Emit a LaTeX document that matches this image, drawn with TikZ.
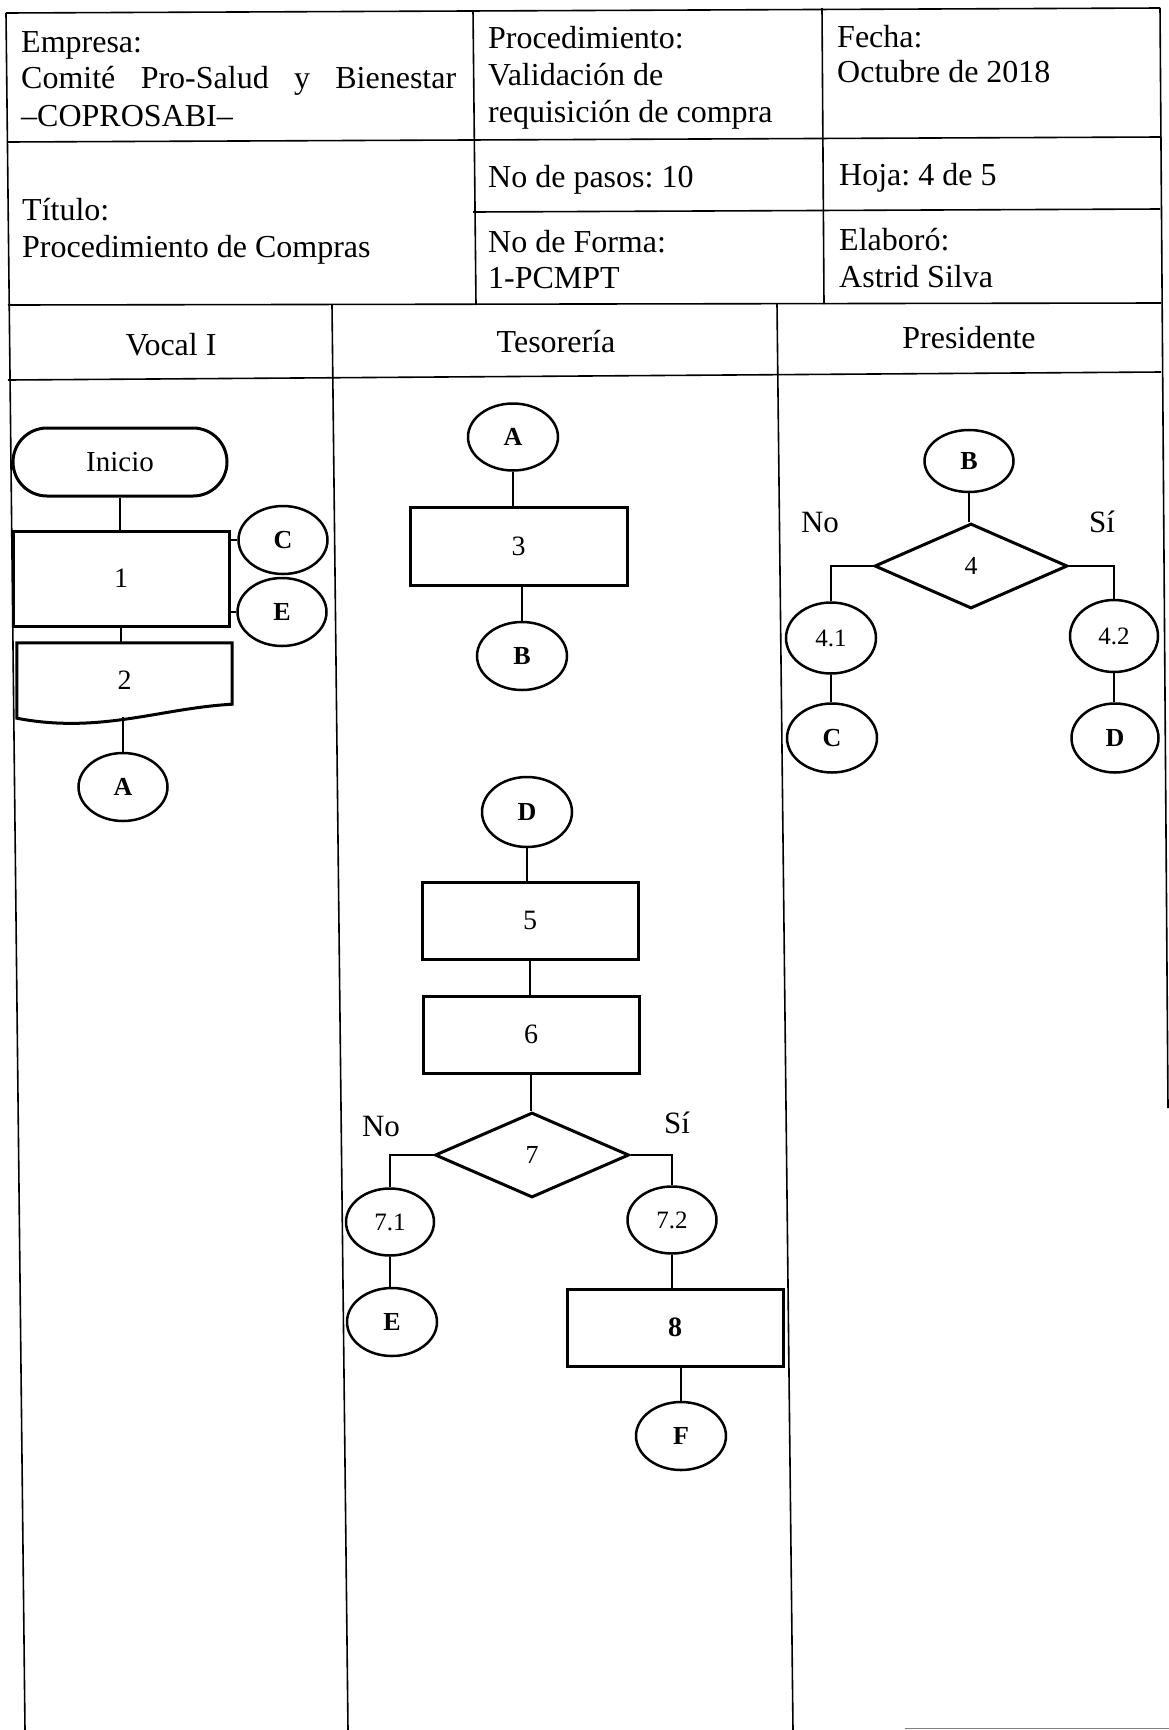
\documentclass[tikz,border=0pt]{standalone}
\usepackage{fontspec}
\setmainfont{Liberation Serif}
\usetikzlibrary{shapes.geometric,calc}
\frenchspacing
\begin{document}
\begin{tikzpicture}[x=1pt,y=-1pt,
  tabline/.style={line width=1.6pt},
  conn/.style={line width=1.4pt},
  procbox/.style={draw,rectangle,line width=3pt,inner sep=0pt,font=\fontsize{28}{30}\selectfont},
  conncirc/.style={draw,ellipse,line width=2.5pt,inner sep=0pt,minimum width=89pt,minimum height=68pt,font=\fontsize{26}{28}\selectfont\bfseries},
  numcirc/.style={draw,ellipse,line width=2.5pt,inner sep=0pt,minimum width=89pt,minimum height=68pt,font=\fontsize{25}{28}\selectfont},
  decision/.style={draw,diamond,line width=3pt,inner sep=0pt,minimum width=194pt,minimum height=85pt,font=\fontsize{26}{28}\selectfont},
  hdr/.style={anchor=base west,inner sep=0pt,font=\fontsize{32}{36}\selectfont},
  lanetitle/.style={anchor=base,inner sep=0pt,font=\fontsize{32}{36}\selectfont},
  lbl/.style={anchor=base,inner sep=0pt,font=\fontsize{31}{34}\selectfont}]

\useasboundingbox (0,0) rectangle (1169,1730);
\fill[white] (0,0) rectangle (1169,1730);

% ---------- table lines ----------
\draw[tabline] (6,13) -- (1160,8);
\draw[tabline] (7,142) -- (1160,137);
\draw[tabline] (473,212) -- (1160,209);
\draw[tabline] (8,305) -- (1161,303);
\draw[tabline] (8,380) -- (1161,372);
\draw[tabline] (473,10) -- (476,305);
\draw[tabline] (822,8) -- (824,304);
\draw[tabline] (6,13) -- (25,1730);
\draw[tabline] (332,305) -- (348,1730);
\draw[tabline] (777,304) -- (793,1730);
\draw[tabline] (1160,8) -- (1168,1108);
\draw[line width=1pt,gray] (905,1728) -- (1169,1728);

% ---------- header texts ----------
\node[hdr] (empresa) at (21,52) {Empresa:};
\node[hdr] (comite) at (21,88) {\makebox[435pt][s]{Comité Pro-Salud y Bienestar}};
\node[hdr] (coprosabi) at (21,126) {–COPROSABI–};
\node[hdr] (proc) at (488,48) {Procedimiento:};
\node[hdr] (valid) at (488,85) {Validación de};
\node[hdr] (requi) at (488,122) {requisición de compra};
\node[hdr] (fecha) at (837,47) {Fecha:};
\node[hdr] (octubre) at (837,82) {Octubre de 2018};
\node[hdr] (titulo) at (22,220) {Título:};
\node[hdr] (procompras) at (22,257) {Procedimiento de Compras};
\node[hdr] (pasos) at (488,187) {No de pasos: 10};
\node[hdr] (hoja) at (839,185) {Hoja: 4 de 5};
\node[hdr] (forma) at (488,252) {No de Forma:};
\node[hdr] (pcmpt) at (488,288) {1-PCMPT};
\node[hdr] (elaboro) at (839,250) {Elaboró:};
\node[hdr] (astrid) at (839,287) {Astrid Silva};
\node[lanetitle] (vocal) at (171,355) {Vocal I};
\node[lanetitle] (tesoreria) at (556,352) {Tesorería};
\node[lanetitle] (presidente) at (969,348) {Presidente};

% ---------- Vocal I lane ----------
\node[draw,rectangle,rounded corners=34pt,line width=3pt,minimum width=214pt,minimum height=68pt,inner sep=0pt,font=\fontsize{29}{32}\selectfont] (inicio) at (120,462) {Inicio};
\node[procbox,minimum width=216pt,minimum height=95pt] (s1) at (121,578.5) {1};
\node[conncirc] (cC1) at (283,540) {C};
\node[conncirc] (cE1) at (282,612) {E};
\node[inner sep=0pt,minimum width=215pt,minimum height=74pt,font=\fontsize{28}{30}\selectfont] (s2) at (124.5,680) {2};
\draw[line width=3pt,line join=miter] ($(s2.south west)+(0,1)$) -- (s2.north west) -- (s2.north east) -- ($(s2.south east)+(0,-13)$) .. controls ($(s2.south east)+(-72,-9)$) and ($(s2.south west)+(83,17)$) .. ($(s2.south west)+(0,1)$) -- cycle;
\node[conncirc] (aA1) at (123,787) {A};

\draw[conn] (inicio.south) -- (inicio.south |- s1.north);
\draw[conn] (s1.east |- cC1.west) -- (cC1.west);
\draw[conn] (s1.east |- cE1.west) -- (cE1.west);
\draw[conn] (s1.south) -- (s1.south |- s2.north);
\draw[conn] (aA1.north |- s2.south) -- (aA1.north);

% ---------- Tesoreria lane (top) ----------
\node[conncirc,minimum width=90pt,minimum height=67pt] (aA2) at (513,437) {A};
\node[procbox,minimum width=217pt,minimum height=78pt] (s3) at (518.5,546) {3};
\node[conncirc,minimum width=90pt] (bB1) at (522,656) {B};
\draw[conn] (aA2.south) -- (aA2.south |- s3.north);
\draw[conn] (bB1.north |- s3.south) -- (bB1.north);

% ---------- Presidente lane ----------
\node[conncirc,minimum height=62pt] (bB2) at (969,461) {B};
\node[decision,minimum width=193pt] (d4) at (971,566) {4};
\node[numcirc,minimum width=90pt,minimum height=71pt] (c41) at (831,638) {4.1};
\node[numcirc,minimum width=88pt,minimum height=72pt] (c42) at (1114,636) {4.2};
\node[conncirc,minimum width=90pt,minimum height=69pt] (cC2) at (832,738) {C};
\node[conncirc,minimum width=87pt,minimum height=69pt] (dD1) at (1115,738) {D};
\node[lbl] (no4) at (820,532) {No};
\node[lbl] (si4) at (1102,532) {Sí};
\draw[conn] (bB2.south) -- (bB2.south |- d4.north);
\draw[conn] (d4.west) -| (c41.north);
\draw[conn] (d4.east) -| (c42.north);
\draw[conn] (c41.south) -- (c41.south |- cC2.north);
\draw[conn] (c42.south) -- (c42.south |- dD1.north);

% ---------- Tesoreria lane (bottom) ----------
\node[conncirc,minimum width=90pt,minimum height=70pt] (dD2) at (527,812) {D};
\node[procbox,minimum width=216pt,minimum height=77pt] (s5) at (530,920.5) {5};
\node[procbox,minimum width=216pt,minimum height=77pt] (s6) at (531,1034.5) {6};
\node[decision] (d7) at (532,1155) {7};
\node[numcirc,minimum width=88pt,minimum height=67pt] (c71) at (390,1222) {7.1};
\node[numcirc,minimum height=67pt] (c72) at (672,1220) {7.2};
\node[conncirc,minimum width=90pt] (eE2) at (392,1322) {E};
\node[procbox,minimum width=216pt,minimum height=77pt,font=\fontsize{28}{30}\selectfont\bfseries] (s8) at (675,1327.5) {8};
\node[conncirc,minimum width=90pt] (fF) at (681,1436) {F};
\node[lbl] (no7) at (381,1136) {No};
\node[lbl] (si7) at (677,1133) {Sí};
\draw[conn] (dD2.south) -- (dD2.south |- s5.north);
\draw[conn] (s5.south) -- (s5.south |- s6.north);
\draw[conn] (s6.south) -- (s6.south |- d7.north);
\draw[conn] (d7.west) -| (c71.north);
\draw[conn] (d7.east) -| (c72.north);
\draw[conn] (c71.south) -- (c71.south |- eE2.north);
\draw[conn] (c72.south) -- (c72.south |- s8.north);
\draw[conn] (fF.north |- s8.south) -- (fF.north);

\end{tikzpicture}
\end{document}
